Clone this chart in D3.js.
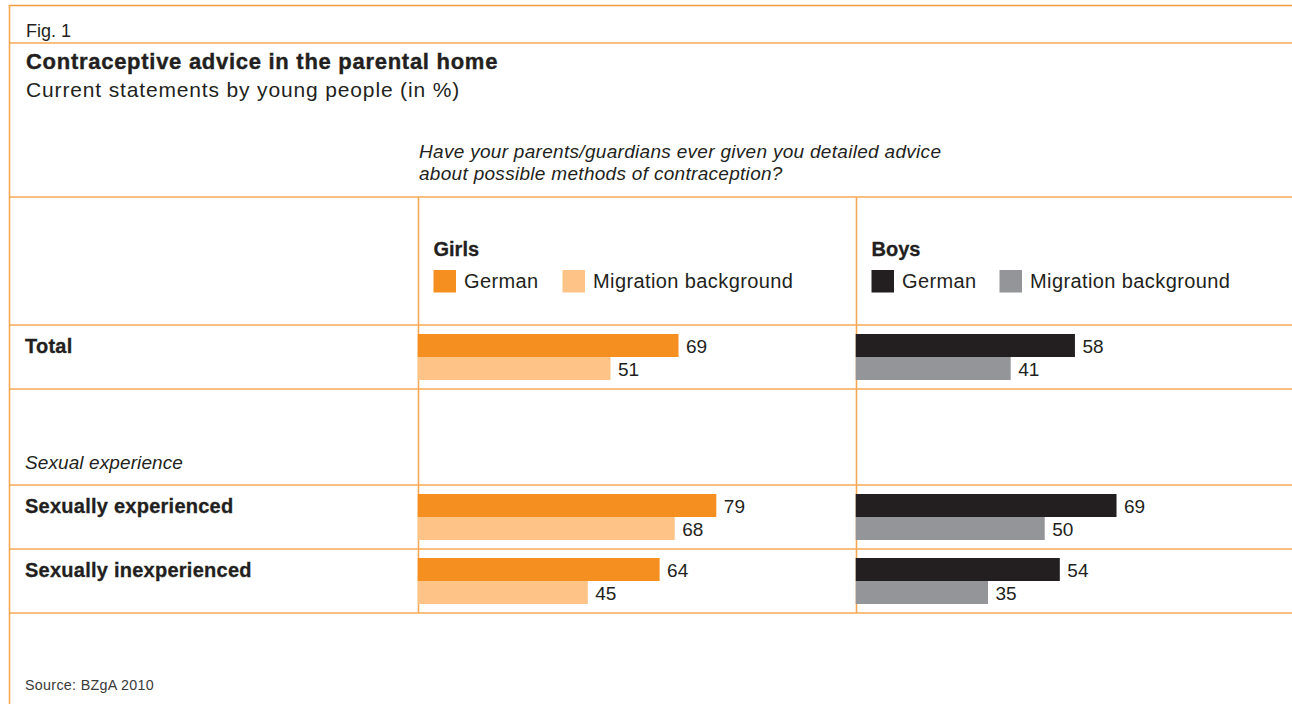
<!DOCTYPE html>
<html>
<head>
<meta charset="utf-8">
<script src="https://cdn.jsdelivr.net/npm/d3@7"></script>
<style>
  html, body { margin: 0; padding: 0; background: #fff; }
  svg { display: block; font-family: "Liberation Sans", Arial, Helvetica, sans-serif; }
</style>
</head>
<body>
<svg id="chart" width="1292" height="704"></svg>
<script>
// Survey rows and values (percent)
const rowLabels = ["Total", "Sexually experienced", "Sexually inexperienced"];
const groups = ["Girls", "Boys"];
const seriesNames = ["German", "Migration background"];
const girlsGerman = [69, 79, 64];
const girlsMigration = [51, 68, 45];
const boysGerman = [58, 69, 54];
const boysMigration = [41, 50, 35];

const colors = {
  Girls: ["#F58F1F", "#FDC387"],
  Boys: ["#231F20", "#939598"]
};
const lineColor = "#F7A856";
const textColor = "#231F20";

const W = 1292, H = 704;
const svg = d3.select("#chart");
svg.append("rect").attr("width", W).attr("height", H).attr("fill", "#fff");

// Table grid layout
const frameLeft = 9.5;
const colLeft = { Girls: 418.5, Boys: 856.5 };
const tableTop = 197, headerBottom = 325;
const rowTops = { "Total": 325, "Sexually experienced": 485, "Sexually inexperienced": 549 };
const spacerBottom = 389, tableBottom = 613;

// Horizontal scale: percent to bar length
const x = d3.scaleLinear().domain([0, 100]).range([0, 378]);

// Frame lines
const lines = svg.append("g").attr("stroke", lineColor).attr("stroke-width", 1.6).attr("fill", "none");
lines.append("line").attr("x1", frameLeft - 0.8).attr("x2", W).attr("y1", 5.5).attr("y2", 5.5).attr("stroke", "#F49A3C");
lines.append("line").attr("x1", frameLeft).attr("x2", frameLeft).attr("y1", 5).attr("y2", H);
[43, tableTop, headerBottom, spacerBottom, rowTops["Sexually experienced"], rowTops["Sexually inexperienced"], tableBottom]
  .forEach(y => lines.append("line").attr("x1", frameLeft).attr("x2", W).attr("y1", y).attr("y2", y));
groups.forEach(g => lines.append("line")
  .attr("x1", colLeft[g]).attr("x2", colLeft[g]).attr("y1", tableTop).attr("y2", tableBottom));

// Header texts
svg.append("text").attr("x", 26).attr("y", 36.5)
  .attr("font-size", 18).attr("fill", textColor).text("Fig. 1");
svg.append("text").attr("x", 26).attr("y", 68.5)
  .attr("font-size", 22).attr("font-weight", "bold").attr("letter-spacing", 0.72)
  .attr("fill", textColor).attr("stroke", textColor).attr("stroke-width", 0.4)
  .text("Contraceptive advice in the parental home");
svg.append("text").attr("x", 26).attr("y", 96.5)
  .attr("font-size", 21).attr("letter-spacing", 0.85)
  .attr("fill", textColor).text("Current statements by young people (in %)");

const question = ["Have your parents/guardians ever given you detailed advice",
                  "about possible methods of contraception?"];
svg.append("g").selectAll("text").data(question).join("text")
  .attr("x", 419).attr("y", (d, i) => 158 + i * 22.3)
  .attr("font-size", 19).attr("font-style", "italic").attr("letter-spacing", 0.3)
  .attr("fill", textColor).text(d => d);

// Group headers and legends
const legendOffsets = { Girls: [0, 129], Boys: [0, 128] };
groups.forEach(g => {
  const gx = colLeft[g] + 15;
  svg.append("text").attr("x", gx).attr("y", 255.5)
    .attr("font-size", 20).attr("font-weight", "bold").attr("fill", textColor)
    .attr("stroke", textColor).attr("stroke-width", 0.3).text(g);
  seriesNames.forEach((s, i) => {
    const lx = gx + legendOffsets[g][i];
    svg.append("rect").attr("x", lx).attr("y", 270).attr("width", 22.5).attr("height", 22.5)
      .attr("fill", colors[g][i]);
    svg.append("text").attr("x", lx + 30.5).attr("y", 288)
      .attr("font-size", 20).attr("letter-spacing", 0.4).attr("fill", textColor).text(s);
  });
});

// Row labels
svg.append("g").selectAll("text").data(rowLabels).join("text")
  .attr("x", 25).attr("y", d => rowTops[d] + 28)
  .attr("font-size", 20).attr("font-weight", "bold").attr("letter-spacing", 0.25)
  .attr("fill", textColor).attr("stroke", textColor).attr("stroke-width", 0.3)
  .text(d => d);
svg.append("text").attr("x", 25).attr("y", 468.5)
  .attr("font-size", 19).attr("font-style", "italic").attr("letter-spacing", 0.1)
  .attr("fill", textColor).text("Sexual experience");

// Bars
const values = {
  Girls: [girlsGerman, girlsMigration],
  Boys: [boysGerman, boysMigration]
};
const barBand = d3.scaleBand().domain(seriesNames).range([9, 55]).paddingInner(0);

groups.forEach(g => {
  const x0 = colLeft[g] - 0.8;
  seriesNames.forEach((s, si) => {
    const data = rowLabels.map((r, ri) => ({ row: r, v: values[g][si][ri] }));
    const yPos = d => rowTops[d.row] + barBand(s);
    svg.append("g").selectAll("rect").data(data).join("rect")
      .attr("x", x0).attr("y", yPos)
      .attr("width", d => x(d.v)).attr("height", barBand.bandwidth())
      .attr("fill", colors[g][si]);
    svg.append("g").selectAll("text").data(data).join("text")
      .attr("x", d => x0 + x(d.v) + 7.5)
      .attr("y", d => yPos(d) + barBand.bandwidth() / 2 + 7)
      .attr("font-size", 19).attr("fill", textColor).text(d => d.v);
  });
});

// Source note
svg.append("text").attr("x", 25).attr("y", 689.5)
  .attr("font-size", 14.3).attr("letter-spacing", 0.3)
  .attr("fill", "#3a3a3a").text("Source: BZgA 2010");
</script>
</body>
</html>
